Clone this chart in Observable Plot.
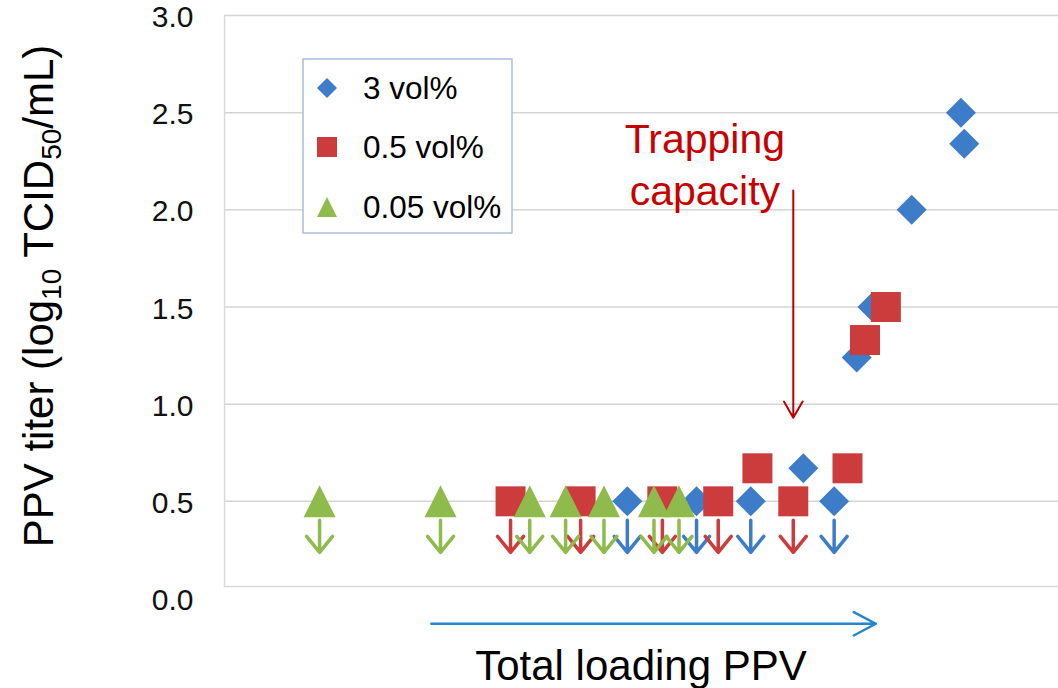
<!DOCTYPE html>
<html>
<head>
<meta charset="utf-8">
<script src="https://cdn.jsdelivr.net/npm/d3@7"></script>
<script src="https://cdn.jsdelivr.net/npm/@observablehq/plot@0.6"></script>
<style>
  html, body { margin: 0; padding: 0; background: #fff; overflow: hidden; }
  #chart svg { display: block; }
</style>
</head>
<body>
<div id="chart"></div>
<script>
// Series (surfactant concentration), colours in legend order
const seriesNames = ["3 vol%", "0.5 vol%", "0.05 vol%"];
const seriesColors = ["#3d7cc9", "#cd3c3c", "#8fba4c"];

// Relative total PPV loading (0–100) and measured titer; "below" marks results under the detection limit
const loading3 = [48.3, 56.6, 63.1, 73.1, 69.4, 75.8, 77.7, 82.4, 88.3, 88.7];
const titer3   = [0.5, 0.5, 0.5, 0.5, 0.67, 1.24, 1.5, 2.0, 2.5, 2.34];
const below3   = [true, true, true, true, false, false, false, false, false, false];

const loading05 = [34.3, 42.7, 52.5, 59.2, 68.2, 63.9, 74.7, 76.8, 79.3];
const titer05   = [0.5, 0.5, 0.5, 0.5, 0.5, 0.67, 0.67, 1.33, 1.5];
const below05   = [true, true, true, true, true, false, false, false, false];

const loading005 = [11.4, 25.9, 36.6, 40.9, 45.5, 51.5, 54.5];
const titer005   = [0.5, 0.5, 0.5, 0.5, 0.5, 0.5, 0.5];
const below005   = [true, true, true, true, true, true, true];

const yTicks = [0, 0.5, 1.0, 1.5, 2.0, 2.5, 3.0];

// Annotations (in data units)
const trapLabel = {x: 57.6, y: 2.245, text: "Trapping\ncapacity"};
const trapArrow = {x: 68.2, y1: 2.10, y2: 0.93};
const loadArrow = {x1: 24.8, x2: 78.1, y: -0.13};

const FONT = "'Liberation Sans', Arial, Helvetica, sans-serif";

function rows(series, xs, ys, bs) {
  return xs.map((x, i) => ({series, loading: x, titer: ys[i], below: bs[i]}));
}
const data = [
  rows(seriesNames[0], loading3, titer3, below3),
  rows(seriesNames[1], loading05, titer05, below05),
  rows(seriesNames[2], loading005, titer005, below005)
];

// Marker shapes; r = sqrt(size / π) is the half-extent of each shape
const half = (size) => Math.sqrt(size / Math.PI);
const diamond = {draw(c, size) { const r = half(size); c.moveTo(0, -r); c.lineTo(r, 0); c.lineTo(0, r); c.lineTo(-r, 0); c.closePath(); }};
const square = {draw(c, size) { const r = half(size); c.rect(-r, -r, 2 * r, 2 * r); }};
const triangle = {draw(c, size) { const r = half(size); c.moveTo(0, -r); c.lineTo(r, r); c.lineTo(-r, r); c.closePath(); }};
const shapes = [diamond, square, triangle];
const radii = [15, 15, 16];
const legendRadii = [10, 10, 10];

// "Below detection limit" arrow, drawn downward from just under the marker
const limitArrow = {
  draw(c, l) {
    const gap = 19, wx = 13, wy = 16;
    c.moveTo(0, -gap); c.lineTo(0, -gap - l);
    c.moveTo(-wx, -gap - l + wy); c.lineTo(0, -gap - l); c.lineTo(wx, -gap - l + wy);
  }
};

const W = 1058, H = 688;
const marginLeft = 224, marginTop = 15, marginBottom = 102;

const marks = [
  Plot.gridY(yTicks.filter(d => d > 0), {stroke: "#d4d4d4", strokeOpacity: 1, strokeWidth: 1.5}),
  Plot.frame({anchor: "left", stroke: "#d9d9d9", strokeWidth: 1.5}),
  Plot.frame({anchor: "bottom", stroke: "#d9d9d9", strokeWidth: 1.5}),
  Plot.axisY(yTicks, {tickSize: 0, tickPadding: 31, tickFormat: d3.format(".1f"), label: null, fontSize: 30, fill: "#111", dy: 2})
];

data.forEach((d, i) => {
  marks.push(Plot.vector(d.filter(r => r.below), {
    x: "loading", y: "titer", length: 32, rotate: 180, anchor: "start",
    shape: limitArrow, stroke: seriesColors[i], strokeWidth: 3.5
  }));
});
data.forEach((d, i) => {
  marks.push(Plot.dot(d, {
    x: "loading", y: "titer", symbol: shapes[i], r: radii[i],
    fill: seriesColors[i], stroke: "none"
  }));
});

marks.push(
  Plot.text([trapLabel], {x: "x", y: "y", text: "text", fontSize: 41, lineHeight: 1.27, fill: "#c80000"}),
  Plot.arrow([trapArrow], {x: "x", y1: "y1", y2: "y2", stroke: "#c00000", strokeWidth: 2, headLength: 14, headAngle: 60}),
  Plot.arrow([loadArrow], {x1: "x1", x2: "x2", y: "y", stroke: "#1f88d0", strokeWidth: 2.5, headLength: 15, headAngle: 56})
);

const plot = Plot.plot({
  width: W,
  height: H,
  marginLeft,
  marginRight: 0,
  marginTop,
  marginBottom,
  style: {fontFamily: FONT, background: "#fff", overflow: "visible"},
  x: {domain: [0, 100], axis: null},
  y: {domain: [0, 3], range: [598, 15], axis: null},
  marks
});

const svg = d3.select(plot);

// Y-axis title with subscripts
const yTitle = svg.append("text")
  .attr("transform", "translate(38,296) rotate(-90)")
  .attr("text-anchor", "middle")
  .attr("dy", "0.35em")
  .attr("font-family", FONT)
  .attr("font-size", 42)
  .attr("fill", "#000");
yTitle.append("tspan").text("PPV titer (log");
yTitle.append("tspan").attr("font-size", 28).attr("dy", 8).text("10");
yTitle.append("tspan").attr("dy", -8).text(" TCID");
yTitle.append("tspan").attr("font-size", 28).attr("dy", 8).text("50");
yTitle.append("tspan").attr("dy", -8).text("/mL)");

// X-axis title
svg.append("text")
  .attr("x", (marginLeft + W) / 2)
  .attr("y", 680)
  .attr("text-anchor", "middle")
  .attr("font-family", FONT)
  .attr("font-size", 42)
  .attr("fill", "#000")
  .text("Total loading PPV");

// Legend
const lg = svg.append("g")
  .attr("font-family", FONT)
  .attr("font-size", 31.5)
  .attr("text-anchor", "start");
lg.append("rect")
  .attr("x", 303).attr("y", 59).attr("width", 209).attr("height", 174)
  .attr("fill", "#fff").attr("stroke", "#a9bcdb").attr("stroke-width", 1.5);
const rowY = [88, 147, 207];
seriesNames.forEach((name, i) => {
  lg.append("path")
    .attr("transform", `translate(327,${rowY[i]})`)
    .attr("d", d3.symbol(shapes[i], Math.PI * legendRadii[i] * legendRadii[i])())
    .attr("fill", seriesColors[i]);
  lg.append("text")
    .attr("x", 363).attr("y", rowY[i]).attr("dy", "0.35em")
    .attr("text-anchor", "start")
    .attr("fill", "#000")
    .text(name);
});

document.getElementById("chart").appendChild(plot);
</script>
</body>
</html>
